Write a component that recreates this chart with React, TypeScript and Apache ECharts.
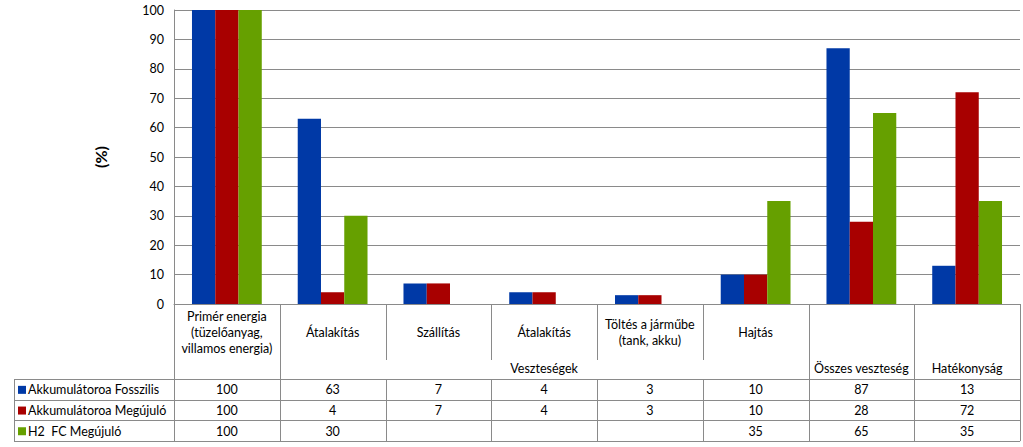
import React, { useEffect, useRef } from "react";
import * as echarts from "echarts";

const categories = [
  "Primér energia\n(tüzelőanyag,\nvillamos energia)",
  "Átalakítás",
  "Szállítás",
  "Átalakítás",
  "Töltés a járműbe\n(tank, akku)",
  "Hajtás",
  "Összes veszteség",
  "Hatékonyság",
];
const groupLabel = "Veszteségek";
const groupStart = 1;
const groupEnd = 5;
const seriesNames = ["Akkumulátoroa Fosszilis", "Akkumulátoroa Megújuló", "H2  FC Megújuló"];
const fosszilis: (number | null)[] = [100, 63, 7, 4, 3, 10, 87, 13];
const megujulo: (number | null)[] = [100, 4, 7, 4, 3, 10, 28, 72];
const h2fc: (number | null)[] = [100, 30, null, null, null, 35, 65, 35];
const colors = ["#0039A6", "#A80000", "#66A000"];
const yMin = 0;
const yMax = 100;
const yInterval = 10;
const yName = "(%)";

const FONT = "Lato, 'Open Sans', sans-serif";
const GRID = { left: 174, right: 3, top: 10, bottom: 143 };
const LINE = "#8a8a8a";

export default function App() {
  const ref = useRef<HTMLDivElement>(null);
  useEffect(() => {
    const chart = echarts.init(ref.current!, null, { renderer: "svg" });
    const allSeries = [fosszilis, megujulo, h2fc];
    chart.setOption({
      animation: false,
      grid: { ...GRID, containLabel: false },
      xAxis: {
        type: "category",
        data: categories,
        axisLabel: { show: false },
        axisTick: { show: false },
        axisLine: { show: true, lineStyle: { color: LINE } },
      },
      yAxis: {
        type: "value",
        min: yMin,
        max: yMax,
        interval: yInterval,
        name: yName,
        nameLocation: "middle",
        nameRotate: 90,
        nameGap: 66,
        nameTextStyle: { fontFamily: FONT, fontSize: 16, fontWeight: "bold", color: "#000" },
        axisLine: { show: true, lineStyle: { color: LINE } },
        axisTick: { show: false },
        axisLabel: { fontFamily: FONT, fontSize: 12.5, color: "#000", margin: 10 },
        splitLine: { lineStyle: { color: LINE, width: 1 } },
      },
      series: allSeries.map((d, i) => ({
        type: "bar",
        name: seriesNames[i],
        data: d,
        itemStyle: { color: colors[i] },
        barGap: "0%",
        barCategoryGap: "34%",
      })),
    });

    const c0 = chart.convertToPixel({ xAxisIndex: 0 }, 0) as number;
    const c1 = chart.convertToPixel({ xAxisIndex: 0 }, 1) as number;
    const w = c1 - c0;
    const left = c0 - w / 2;
    const right = left + w * categories.length;
    const top = chart.convertToPixel({ yAxisIndex: 0 }, yMin) as number;
    const tableLeft = 14;
    const headerMid = 360;
    const headerBottom = 379;
    const rowH = 20.7;
    const tableBottom = headerBottom + rowH * seriesNames.length;
    const px = (v: number) => Math.round(v) + 0.5;
    const g: any[] = [];
    const line = (x1: number, y1: number, x2: number, y2: number) =>
      g.push({ type: "line", silent: true, shape: { x1, y1, x2, y2 }, style: { stroke: LINE, lineWidth: 1 } });
    const text = (t: string, x: number, y: number, align = "center") =>
      g.push({
        type: "text",
        silent: true,
        style: { text: t, x, y, align, verticalAlign: "middle", fill: "#000", fontFamily: FONT, fontSize: 12.5, lineHeight: 16 },
      });

    for (let i = 0; i <= categories.length; i++) {
      const x = px(left + w * i);
      const inGroup = i > groupStart && i <= groupEnd;
      line(x, top, x, inGroup ? headerMid : tableBottom);
      if (inGroup) line(x, headerBottom, x, tableBottom);
    }
    line(px(tableLeft), headerBottom, px(tableLeft), tableBottom);
    for (let r = 0; r <= seriesNames.length; r++) {
      const y = px(headerBottom + rowH * r);
      line(tableLeft, y, right, y);
    }
    categories.forEach((cat, i) => {
      const cx = chart.convertToPixel({ xAxisIndex: 0 }, i) as number;
      if (i <= groupEnd) text(cat, cx, 332);
      else text(cat, cx, 368);
    });
    const gx = (left + w * groupStart + left + w * (groupEnd + 1)) / 2;
    text(groupLabel, gx, 368);
    allSeries.forEach((d, r) => {
      const cy = headerBottom + rowH * r + rowH / 2 + 0.5;
      g.push({ type: "rect", silent: true, shape: { x: 18, y: cy - 4, width: 8, height: 8 }, style: { fill: colors[r] } });
      text(seriesNames[r], 28, cy, "left");
      d.forEach((v, i) => {
        if (v == null) return;
        const cx = chart.convertToPixel({ xAxisIndex: 0 }, i) as number;
        text(String(v), cx, cy);
      });
    });
    chart.setOption({ graphic: g });
    return () => chart.dispose();
  }, []);
  return <div ref={ref} style={{ width: 1023, height: 447, position: "absolute", left: 0, top: 0 }} />;
}
